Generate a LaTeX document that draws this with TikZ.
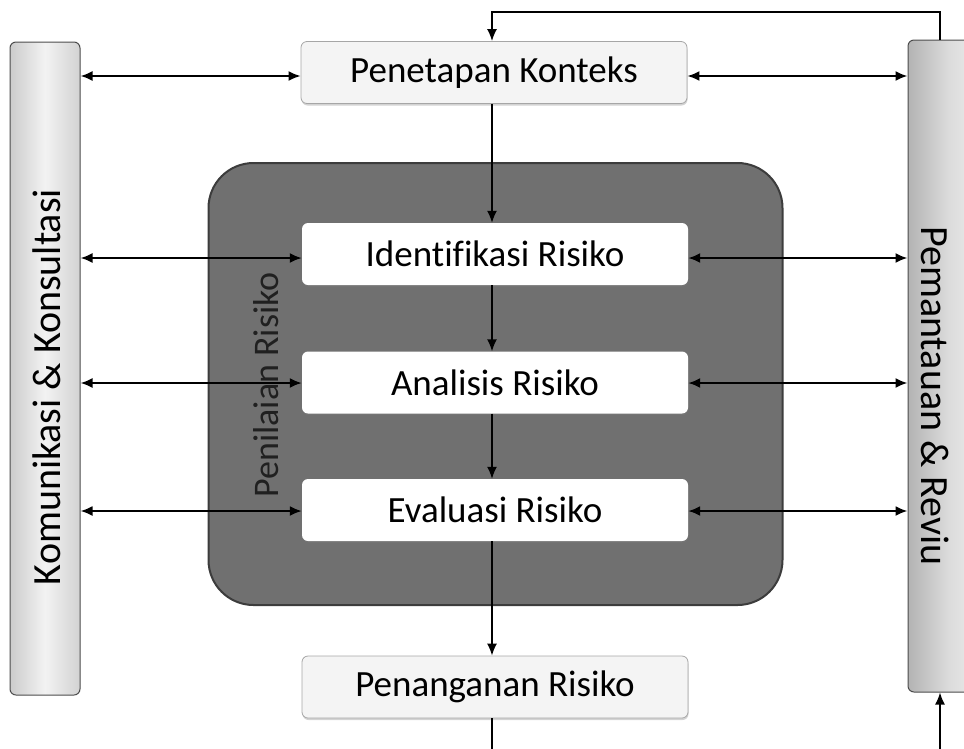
\documentclass[tikz,border=0pt]{standalone}
\usepackage{fontspec}
\setmainfont{Carlito}[Ligatures=NoCommon]
\usetikzlibrary{arrows.meta,shadows,calc}
\definecolor{darkbox}{RGB}{112,112,112}
\definecolor{darkedge}{RGB}{60,60,60}
\definecolor{lightbox}{RGB}{244,244,244}
\tikzset{
  stagebox/.style={rectangle, rounded corners=6pt, minimum width=386pt, minimum height=62pt, inner sep=0pt, font=\fontsize{37}{40}\selectfont},
  lightstage/.style={stagebox, fill=lightbox, draw=gray!70, line width=0.8pt, drop shadow={opacity=0.35, shadow xshift=0.5pt, shadow yshift=-2pt}},
  whitestage/.style={stagebox, fill=white, draw=none, drop shadow={opacity=0.3, shadow xshift=0.5pt, shadow yshift=-1.5pt}},
  sidebar/.style={rectangle, rounded corners=6pt, draw=gray!60!black, line width=1pt, inner sep=0pt},
  sidetext/.style={font=\fontsize{40}{44}\selectfont},
  dbl/.style={{Latex[length=12pt,width=10pt]}-{Latex[length=12pt,width=10pt]}, line width=2pt},
  arr/.style={-{Latex[length=12pt,width=10pt]}, line width=1.6pt},
  plain/.style={line width=1.6pt}
}
\begin{document}
\begin{tikzpicture}[x=1pt,y=-1pt]
\useasboundingbox (0,0) rectangle (964,748);
\clip (0,0) rectangle (964,748);
% side bars
\node[sidebar, minimum width=70pt, minimum height=653pt, left color=gray!40, right color=gray!35, middle color=gray!10] (lbar) at (45,368.5) {};
\node[rotate=90, sidetext] (ltext) at (47,387) {Komunikasi \& Konsultasi};
\node[sidebar, minimum width=80pt, minimum height=652pt, left color=gray!60, right color=gray!12, middle color=gray!28] (rbar) at (948,366) {};
\node[rotate=-90, sidetext] (rtext) at (935,396) {Pemantauan \& Reviu};
% assessment container
\node[rectangle, rounded corners=45pt, fill=darkbox, draw=darkedge, line width=2pt, minimum width=574pt, minimum height=442pt, inner sep=0pt] (assess) at (495.5,384) {};
\node[rotate=90, text=gray!25!black, font=\fontsize{36}{40}\selectfont] (atext) at (266,385) {Penilaian Risiko};
% stages
\node[lightstage] (ctx) at (494,72.5) {Penetapan Konteks};
\node[whitestage] (ident) at (495,254) {Identifikasi Risiko};
\node[whitestage] (anal) at (495,382.5) {Analisis Risiko};
\node[whitestage] (eval) at (495,510) {Evaluasi Risiko};
\node[lightstage] (treat) at (495,687) {Penanganan Risiko};
% vertical flow
\draw[arr] (ctx.south -| 492,0) -- (ident.north -| 492,0);
\draw[arr] (ident.south -| 492,0) -- (anal.north -| 492,0);
\draw[arr] (anal.south -| 492,0) -- (eval.north -| 492,0);
\draw[arr] (eval.south -| 492,0) -- (treat.north -| 492,0);
% horizontal links
\coordinate (ctxy) at (0,76);
\draw[dbl] (lbar.east |- ctxy) -- (ctx.west |- ctxy);
\draw[dbl] (ctx.east |- ctxy) -- (rbar.west |- ctxy);
\foreach \n/\yy in {ident/258, anal/383, eval/511}{
  \coordinate (h\n) at (0,\yy);
  \draw[dbl] (lbar.east |- h\n) -- (\n.west |- h\n);
  \draw[dbl] (\n.east |- h\n) -- (rbar.west |- h\n);
}
% feedback loop
\coordinate (fbtop) at (940,12);
\coordinate (fbleft) at (492,12);
\draw[arr] (rbar.north -| fbtop) -- (fbtop) -- (fbleft) -- (ctx.north -| fbleft);
\coordinate (bl) at (492,760);
\coordinate (br) at (940,760);
\draw[plain] (treat.south -| bl) -- (bl);
\draw[arr] (br) -- (rbar.south -| br);
\end{tikzpicture}
\end{document}
